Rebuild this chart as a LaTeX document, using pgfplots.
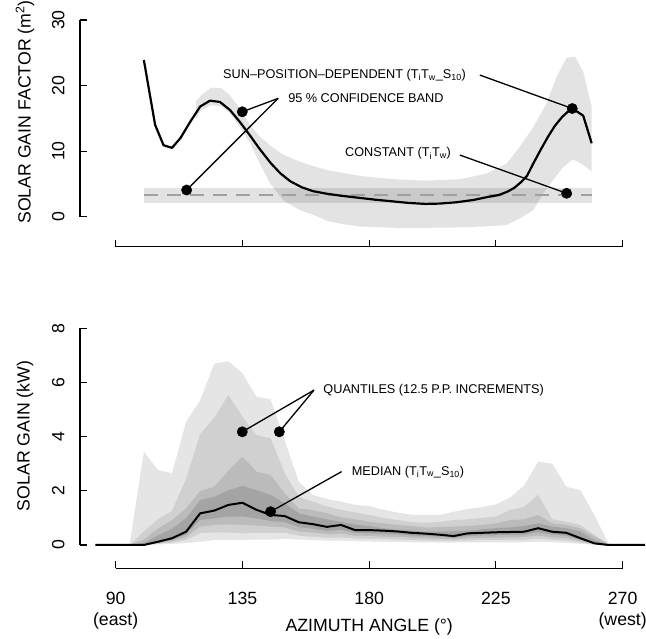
\documentclass[border=0pt]{standalone}
\usepackage{fontspec}
\setmainfont{Liberation Sans}
\usepackage{pgfplots}
\pgfplotsset{compat=1.18}
\usepackage{pgfplotstable}

\definecolor{qa}{HTML}{E5E5E5}
\definecolor{qb}{HTML}{D0D0D0}
\definecolor{qc}{HTML}{BBBBBB}
\definecolor{qd}{HTML}{A4A4A4}
\definecolor{dashgray}{HTML}{A0A0A0}

\pgfplotstableread{
x     q0   q1   q2   q3   med  q5   q6   q7   q8
82.8  0    0    0    0    0    0    0    0    0
85    0    0    0    0    0    0    0    0    0
90    0    0    0    0    0    0    0    0    0
95    0    0    0    0    0    0    0    0    0.05
100   0    0    0    0    0    0.08 0.2  0.5  3.45
105   0.02 0.04 0.07 0.09 0.12 0.35 0.6  0.95 2.77
110   0.04 0.09 0.14 0.19 0.25 0.6  0.92 1.25 2.65
115   0.07 0.18 0.28 0.38 0.49 0.99 1.35 2.45 4.55
120   0.12 0.43 0.68 0.92 1.17 1.66 2.0  4.1  5.35
125   0.18 0.47 0.74 0.98 1.27 1.78 2.15 4.7  6.7
130   0.18 0.46 0.76 1.05 1.48 2.03 2.74 5.54 6.79
135   0.18 0.43 0.74 1.05 1.56 2.18 3.26 4.74 6.34
140   0.2  0.45 0.72 0.98 1.30 2.03 2.71 4.06 5.48
145   0.2  0.45 0.68 0.88 1.11 1.85 2.58 3.94 5.38
150   0.22 0.45 0.65 0.84 1.07 1.54 1.91 2.65 3.88
155   0.2  0.34 0.5  0.66 0.84 1.17 1.35 1.78 2.34
160   0.18 0.3  0.46 0.6  0.77 1.05 1.29 1.6  1.85
165   0.16 0.27 0.4  0.52 0.67 0.95 1.17 1.42 1.7
170   0.16 0.28 0.42 0.56 0.74 0.85 1.02 1.3  1.6
175   0.14 0.24 0.34 0.44 0.55 0.76 0.95 1.2  1.48
180   0.13 0.23 0.33 0.43 0.55 0.7  0.86 1.11 1.44
185   0.12 0.22 0.31 0.41 0.53 0.62 0.8  1.0  1.3
190   0.11 0.2  0.3  0.39 0.50 0.57 0.74 0.92 1.2
195   0.1  0.18 0.27 0.35 0.45 0.53 0.7  0.85 1.12
200   0.1  0.17 0.25 0.33 0.42 0.49 0.65 0.82 1.1
205   0.09 0.16 0.23 0.3  0.38 0.5  0.66 0.85 1.1
210   0.09 0.15 0.21 0.27 0.33 0.51 0.68 0.92 1.23
215   0.1  0.17 0.25 0.33 0.43 0.53 0.7  0.95 1.33
220   0.1  0.18 0.26 0.35 0.45 0.58 0.74 1.0  1.4
225   0.1  0.18 0.27 0.36 0.47 0.62 0.8  1.05 1.5
230   0.1  0.19 0.28 0.37 0.48 0.65 0.92 1.29 1.75
235   0.1  0.19 0.29 0.38 0.49 0.7  0.95 1.41 2.2
240   0.12 0.23 0.35 0.47 0.62 0.8  1.11 1.85 3.08
245   0.1  0.19 0.28 0.38 0.49 0.68 0.8  0.95 3.0
250   0.08 0.16 0.25 0.34 0.45 0.62 0.74 0.86 2.15
255   0.04 0.09 0.14 0.19 0.25 0.5  0.62 0.74 2.03
260   0.01 0.02 0.03 0.05 0.06 0.18 0.31 0.37 1.1
265   0    0    0    0    0    0.02 0.03 0.03 0.05
270   0    0    0    0    0    0    0    0    0
275   0    0    0    0    0    0    0    0    0
278   0    0    0    0    0    0    0    0    0
}\quant

\pgfplotsset{
  rstyle/.style={
    scale only axis, width=565.2pt, xmin=77.33, xmax=278,
    axis x line*=bottom, axis y line*=left,
    axis line style={draw=none},
    tick align=inside, major tick length=7pt,
    tick style={black, line width=1.1pt},
    clip=false,
    xtick={90,135,180,225,270},
    ticklabel style={font=\fontsize{17.7}{21.5}\selectfont},
    yticklabel style={rotate=90, anchor=south},
    yticklabel shift=12pt,
    xticklabel shift=20pt,
    label style={font=\fontsize{17.7}{20}\selectfont},
  },
}
\tikzset{annot/.style={font=\fontsize{12.7}{15}\selectfont, anchor=base west, inner sep=0pt}}

\begin{document}
\begin{tikzpicture}
\begin{pgfinterruptboundingbox}
% ---------------- top panel ----------------
\begin{axis}[rstyle, at={(0pt,0pt)}, anchor=south west,
  height=226.7pt, ymin=-4.575, ymax=30,
  ytick={0,10,20,30}, yticklabels={0,10,20,30},
  xticklabels={},
  ylabel={SOLAR GAIN FACTOR (m\textsuperscript{2})},
  ylabel style={at={(axis description cs:-0.0973,0.594)}, anchor=center},
]
\draw[line width=1.1pt] (axis cs:90,-4.575) -- (axis cs:270,-4.575);
\draw[line width=1.1pt] (axis cs:77.33,0) -- (axis cs:77.33,30);

% 95% confidence band
\addplot[draw=none, fill=black, fill opacity=0.11] coordinates {
 (118.5,17.6) (120.5,18.6) (124,19.7) (127.5,19.6) (130.6,18.5) (134,16.5)
 (137.7,14.0) (141,12.3) (145,10.8) (149,9.6) (153,8.8) (158,8.0) (165,7.1)
 (177,6.2) (189,5.7) (200,5.5) (212,5.7) (222,6.6) (228.8,8.1) (233.5,10.7)
 (238.3,13.7) (243,17.3) (246.6,21.4) (250.1,24.2) (253.1,24.4) (256,22.1) (259,16.8)
 (259,6.9) (256,7.9) (252.4,8.75) (248.9,7.6) (245.4,5.6) (241.8,3.57) (238.3,1.0)
 (233.5,-0.25) (228.8,-1.27) (220,-1.5) (210,-1.65) (200,-1.7) (190,-1.7)
 (177,-1.5) (170,-1.1) (165,-0.6) (160,0.3) (155.4,1.0) (149.5,2.5) (144.8,5.1)
 (141.2,8.1) (137.7,11.2) (134,13.7) (130.6,15.8) (127.5,16.8) (124,17.0)
 (120.5,16.3) (118.5,15.0)
} --cycle;

% constant band
\addplot[draw=none, fill=black, fill opacity=0.11] coordinates {
 (100,2.14) (259,2.14) (259,4.33) (100,4.33)} --cycle;
\addplot[dashgray, line width=2pt, dash pattern=on 14pt off 9pt] coordinates {(100,3.3) (259,3.3)};

% sun-position-dependent
\addplot[black, line width=2.2pt, line join=round] coordinates {
 (100,23.9) (104,14.0) (107,10.9) (110,10.5) (113,12.0) (116.5,14.5) (120,16.8)
 (123.5,17.7) (127,17.5) (130.5,16.3) (134,14.5) (137.5,12.5) (141,10.4) (145,8.2)
 (148.5,6.6) (152,5.4) (156,4.5) (160,3.9) (165,3.5) (170,3.2) (176,2.9) (182,2.6)
 (188,2.35) (194,2.1) (200,1.95) (205,2.0) (211,2.2) (217,2.55) (222,3.0) (226,3.3)
 (229,3.8) (231.5,4.4) (234,5.3) (236,6.2) (238.5,8.3) (241,10.3) (243.5,12.2)
 (246,13.9) (248.5,15.2) (250.5,16.0) (252.2,16.5) (256,15.4) (259,11.2)
};

% annotations
\addplot[black, line width=1.3pt] coordinates {(147.7,18.05) (134.95,16.0)};
\addplot[black, line width=1.3pt] coordinates {(147.7,18.05) (115.2,4.07)};
\addplot[black, line width=1.3pt] coordinates {(219.3,21.6) (252.1,16.5)};
\addplot[black, line width=1.3pt] coordinates {(212.2,9.4) (250.1,3.57)};
\addplot[only marks, mark=*, mark size=5.2pt, black] coordinates {
 (134.95,16.0) (115.2,4.07) (252.1,16.5) (250.1,3.57)};
\node[annot] at (axis cs:128.1,21.1) {SUN\textendash POSITION\textendash DEPENDENT (T\textsubscript{i}T\textsubscript{w}\_S\textsubscript{10})};
\node[annot] at (axis cs:151.2,17.45) {95 \% CONFIDENCE BAND};
\node[annot] at (axis cs:171.4,9.15) {CONSTANT (T\textsubscript{i}T\textsubscript{w})};
\end{axis}

% ---------------- bottom panel ----------------
\begin{axis}[rstyle, at={(0pt,-321.8pt)}, anchor=south west,
  height=240.1pt, ymin=-0.868, ymax=8,
  ytick={0,2,4,6,8}, yticklabels={0,2,4,6,8},
  xticklabels={{90\\(east)},135,180,225,{270\\(west)}},
  xticklabel style={align=center, anchor=north},
  ylabel={SOLAR GAIN (kW)},
  ylabel style={at={(axis description cs:-0.0973,0.552)}, anchor=center},
  xlabel={AZIMUTH ANGLE (°)},
  xlabel style={at={(axis description cs:0.5117,-0.2632)}, anchor=base},
]
\draw[line width=1.1pt] (axis cs:90,-0.868) -- (axis cs:270,-0.868);
\draw[line width=1.1pt] (axis cs:77.33,0) -- (axis cs:77.33,8);

% quantile bands, layered from the outside in
\addplot[draw=none, fill=qa] table[x=x,y=q8]{\quant} \closedcycle;
\addplot[draw=none, fill=qb] table[x=x,y=q7]{\quant} \closedcycle;
\addplot[draw=none, fill=qc] table[x=x,y=q6]{\quant} \closedcycle;
\addplot[draw=none, fill=qd] table[x=x,y=q5]{\quant} \closedcycle;
\addplot[draw=none, fill=qc] table[x=x,y=q3]{\quant} \closedcycle;
\addplot[draw=none, fill=qb] table[x=x,y=q2]{\quant} \closedcycle;
\addplot[draw=none, fill=qa] table[x=x,y=q1]{\quant} \closedcycle;
\addplot[draw=none, fill=white] table[x=x,y=q0]{\quant} \closedcycle;
\addplot[black, line width=2pt, line join=round] table[x=x,y=med]{\quant};

\addplot[black, line width=1.3pt] coordinates {(160.4,5.72) (134.95,4.18)};
\addplot[black, line width=1.3pt] coordinates {(160.4,5.72) (148.1,4.18)};
\addplot[black, line width=1.3pt] coordinates {(170.2,2.71) (145,1.23)};
\addplot[only marks, mark=*, mark size=5.2pt, black] coordinates {
 (134.95,4.18) (148.1,4.18) (145,1.23)};
\node[annot] at (axis cs:163.7,5.58) {QUANTILES (12.5 P.P. INCREMENTS)};
\node[annot] at (axis cs:173.8,2.585) {MEDIAN (T\textsubscript{i}T\textsubscript{w}\_S\textsubscript{10})};
\end{axis}
\end{pgfinterruptboundingbox}
\path (-80pt,-392.3pt) rectangle (566pt,246.7pt);
\end{tikzpicture}
\end{document}
